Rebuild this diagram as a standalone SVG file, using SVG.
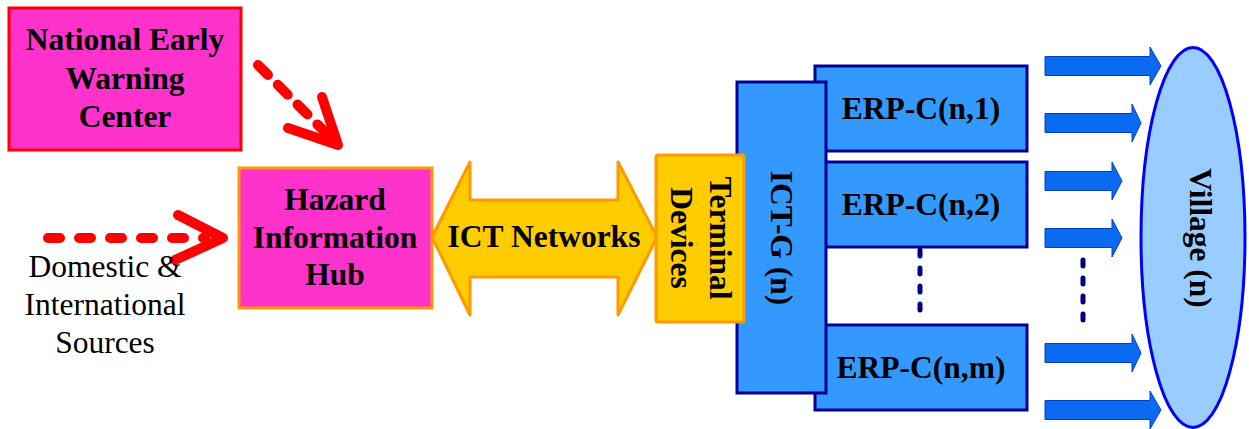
<svg xmlns="http://www.w3.org/2000/svg" width="1249" height="429" viewBox="0 0 1249 429">
<style>
.b{font-family:"Liberation Serif","Times New Roman",serif;font-weight:bold;font-size:31.5px;fill:#000;text-anchor:middle}
.r{font-family:"Liberation Serif","Times New Roman",serif;font-size:31.5px;fill:#000;text-anchor:middle}
.mag{fill:#FF33CC}
.erp{fill:#3399FF;stroke:#000099;stroke-width:3}
.red{fill:none;stroke:#FF0000;stroke-width:10;stroke-linecap:round;stroke-linejoin:round}
.dots{fill:none;stroke:#000080;stroke-width:5;stroke-linecap:round;stroke-dasharray:6 12}
.barr{fill:#0A6BF0;stroke:#0040C0;stroke-width:1}
</style>
<defs>
<path id="bigArr" d="M0,-9.5 H105 V-19 L116,0 L105,19 V9.5 H0 Z"/>
<path id="midArr" d="M0,-9.5 H87 V-19 L96,0 L87,19 V9.5 H0 Z"/>
<path id="smArr" d="M0,-9.5 H67 V-19 L77,0 L67,19 V9.5 H0 Z"/>
</defs>
<g id="connectors">
<path class="red" d="M258,65 L332,139" stroke-dasharray="14 14"/>
<path class="red" d="M322,97 L338,145 L288,128"/>
<path class="red" d="M48,238 L205,238" stroke-dasharray="12 19"/>
<path class="red" d="M178,215 L223,238 L175,260"/>
<path class="dots" d="M920,250 V322"/>
<path class="dots" d="M1083,260 V332"/>
<use href="#bigArr" class="barr" x="1045" y="66"/>
<use href="#midArr" class="barr" x="1045" y="123"/>
<use href="#smArr" class="barr" x="1045" y="181"/>
<use href="#smArr" class="barr" x="1045" y="238"/>
<use href="#midArr" class="barr" x="1045" y="353"/>
<use href="#bigArr" class="barr" x="1045" y="410"/>
</g>
<g id="newc">
<rect x="9" y="8" width="232" height="142" class="mag" stroke="#FF0000" stroke-width="3"/>
<text class="b" x="125" y="50">National Early</text>
<text class="b" x="125" y="89">Warning</text>
<text class="b" x="125" y="127">Center</text>
</g>
<g id="sources">
<text class="r" x="105" y="277">Domestic &amp;</text>
<text class="r" x="105" y="315">International</text>
<text class="r" x="105" y="353">Sources</text>
</g>
<g id="hub">
<rect x="239" y="168" width="193" height="140" class="mag" stroke="#FF9900" stroke-width="3"/>
<text class="b" x="335" y="210">Hazard</text>
<text class="b" x="335" y="248">Information</text>
<text class="b" x="335" y="285">Hub</text>
</g>
<g id="ictnet">
<path d="M432,237 L470,162 V200 H618 V162 L657,237 L618,315 V277 H470 V315 Z" fill="#FFCC00" stroke="#FF9900" stroke-width="3" stroke-linejoin="round"/>
<text class="b" x="544" y="247">ICT Networks</text>
</g>
<g id="erp1">
<rect x="815" y="66" width="212" height="85" class="erp"/>
<text class="b" x="921" y="119">ERP-C(n,1)</text>
</g>
<g id="erp2">
<rect x="815" y="162" width="212" height="85" class="erp"/>
<text class="b" x="921" y="215">ERP-C(n,2)</text>
</g>
<g id="erpm">
<rect x="815" y="325" width="212" height="85" class="erp"/>
<text class="b" x="921" y="378">ERP-C(n,m)</text>
</g>
<g id="ictg">
<rect x="737" y="82" width="89" height="311" class="erp"/>
<text class="b" transform="translate(771,238) rotate(90)" x="0" y="0">ICT-G (n)</text>
</g>
<g id="terminal">
<rect x="656" y="155" width="88" height="167" fill="#FFCC00" stroke="#FF9900" stroke-width="3" rx="2"/>
<text class="b" transform="translate(710,238) rotate(90)" x="0" y="0">Terminal</text>
<text class="b" transform="translate(671,238) rotate(90)" x="0" y="0">Devices</text>
</g>
<g id="village">
<ellipse cx="1193" cy="237.5" rx="52" ry="190" fill="#99CCFF" stroke="#0000FF" stroke-width="3"/>
<text class="b" transform="translate(1190,238) rotate(90)" x="0" y="0">Village (n)</text>
</g>
</svg>
